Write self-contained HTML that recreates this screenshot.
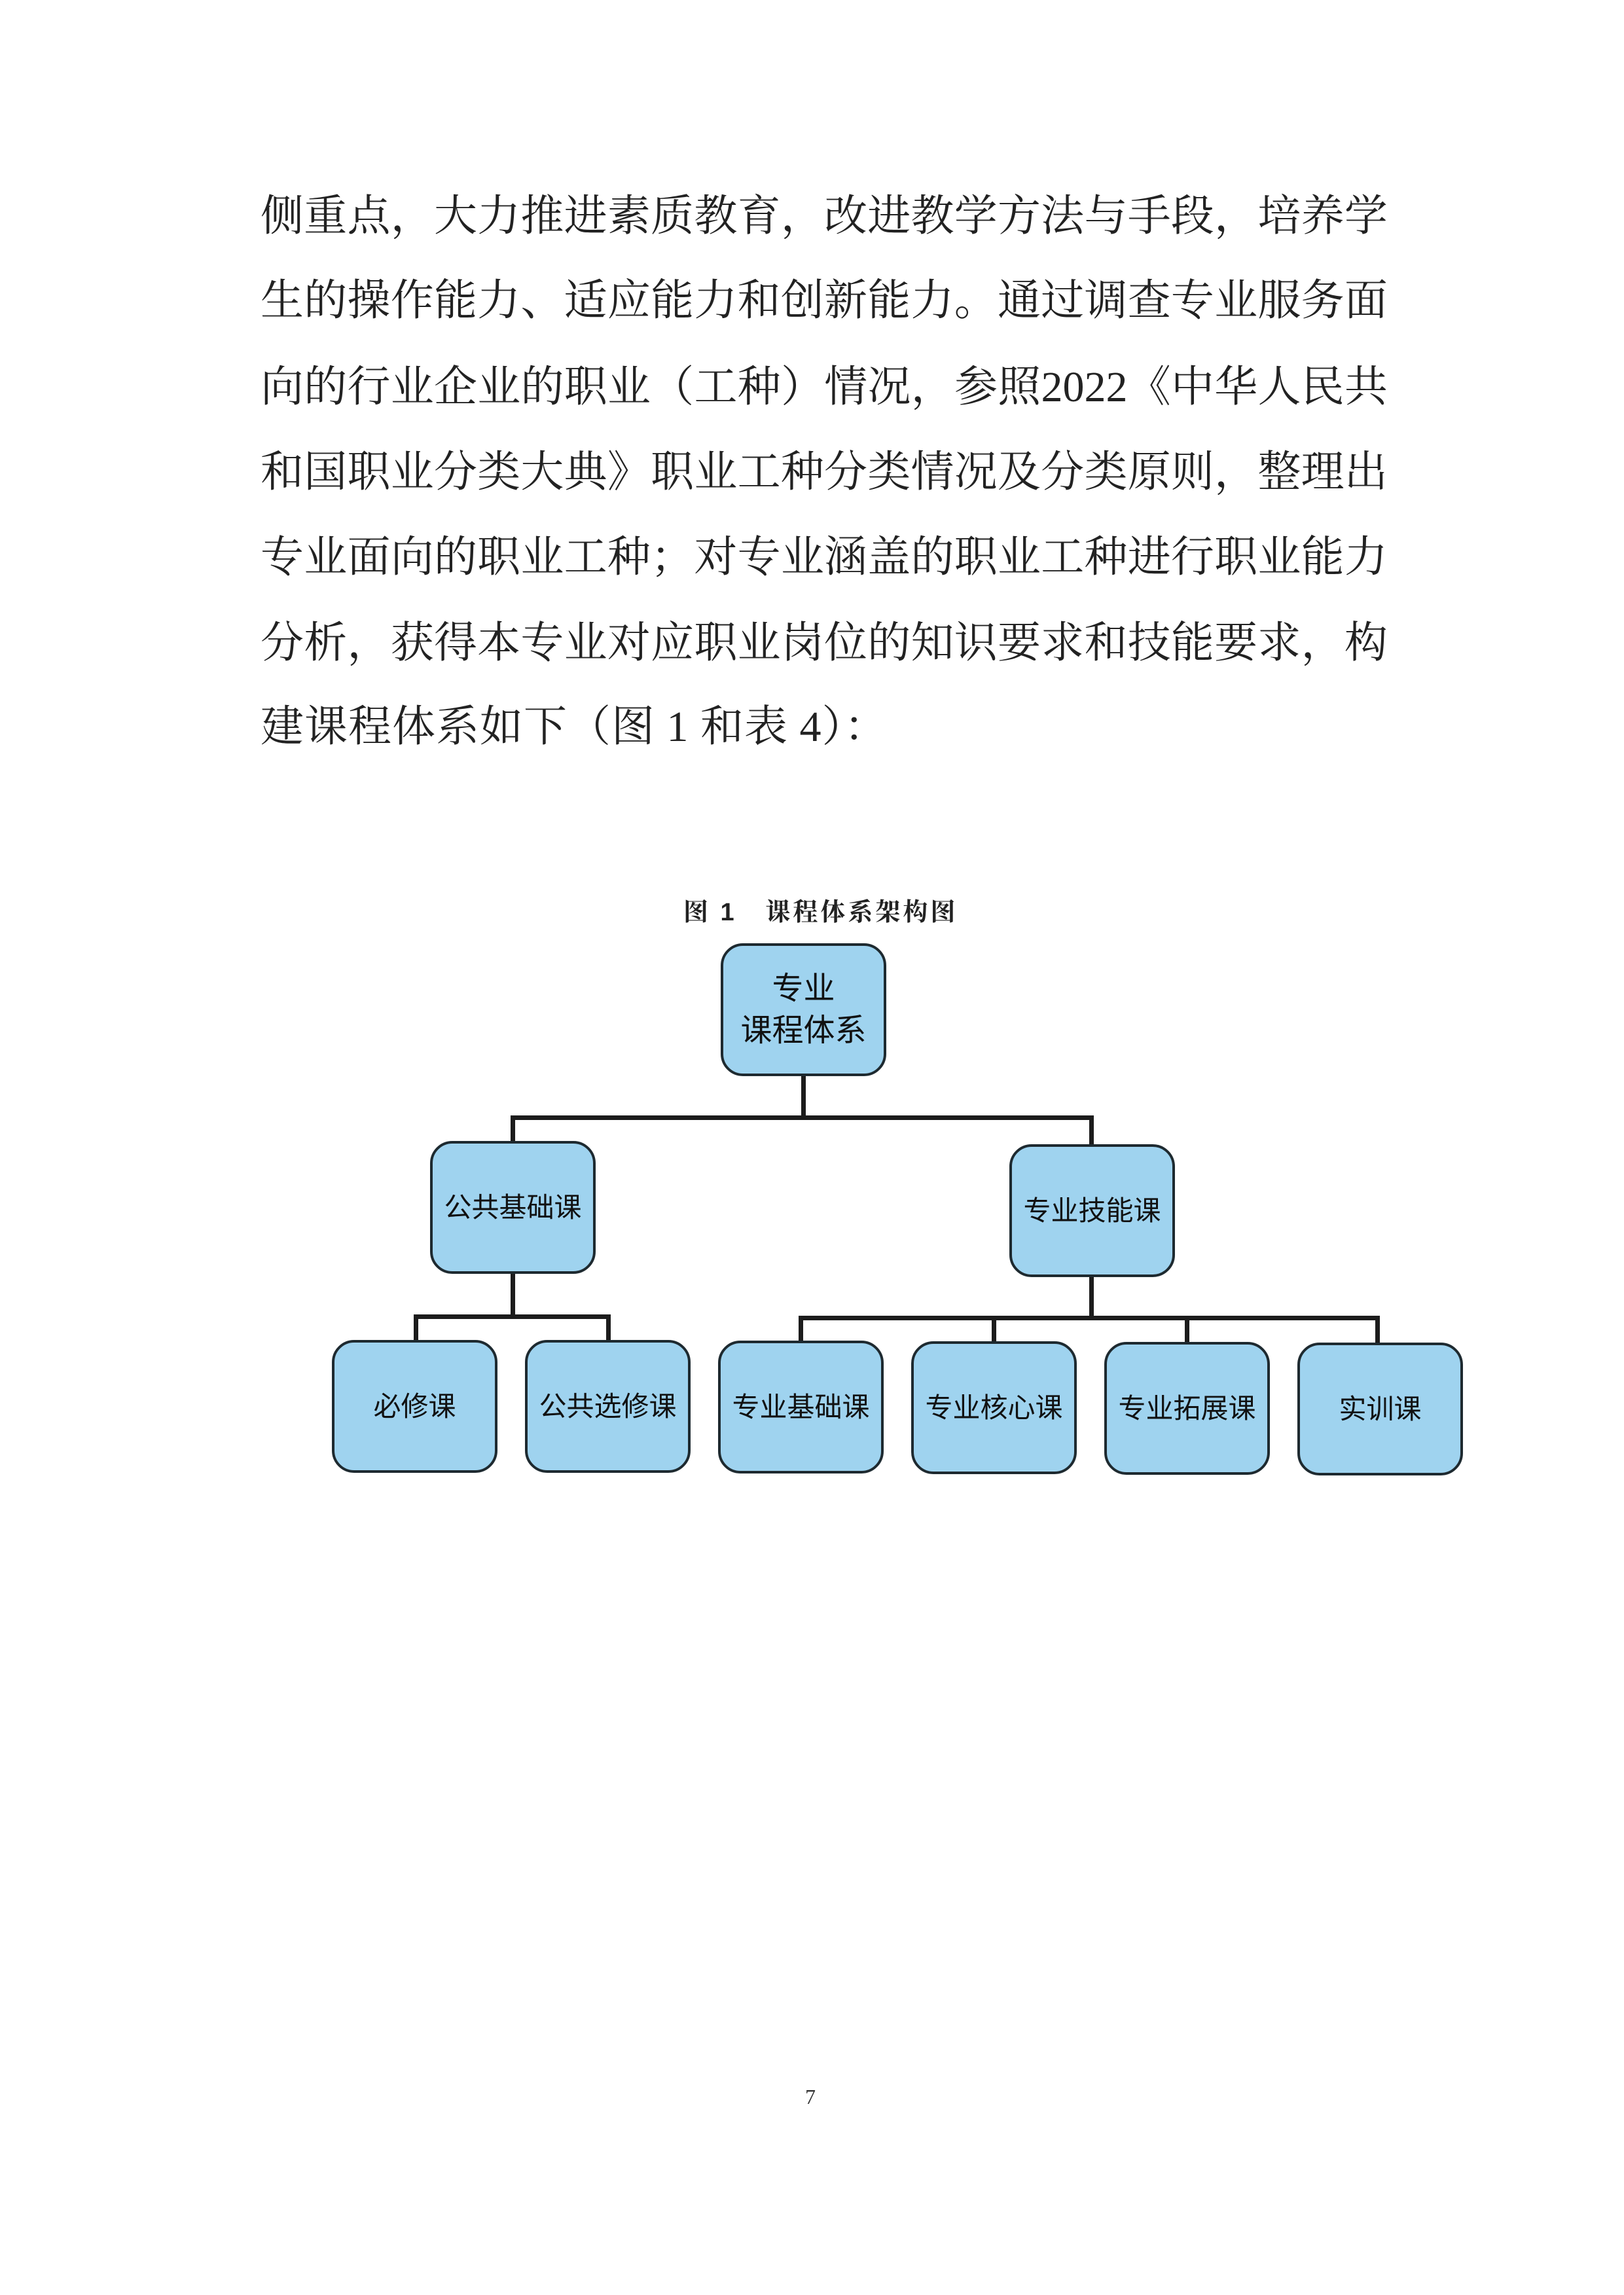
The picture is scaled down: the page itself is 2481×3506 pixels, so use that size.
<!DOCTYPE html>
<html><head><meta charset="utf-8"><style>
html,body{margin:0;padding:0;background:#fff;}
body{width:2481px;height:3506px;position:relative;overflow:hidden;}
.t{position:absolute;left:398px;width:1722px;font-family:"Liberation Serif","Noto Serif CJK SC",serif;font-size:66px;line-height:80px;color:#222;display:flex;justify-content:space-between;white-space:nowrap;}
.last{display:block;letter-spacing:1px;}
.cap{position:absolute;left:1044px;top:1362px;font-family:"Liberation Sans","Noto Serif CJK SC",serif;font-weight:bold;font-size:38px;color:#222;white-space:pre;letter-spacing:4px;}
.b{position:absolute;width:245px;height:195px;background:#9fd3ef;border:4px solid #1e2a30;border-radius:34px;display:flex;align-items:center;justify-content:center;text-align:center;font-family:"Liberation Sans","Noto Sans CJK SC",sans-serif;font-size:42px;color:#111;line-height:64px;}
.l{position:absolute;background:#1c1c1c;}
.pn{position:absolute;left:1230px;top:3185px;font-family:"Liberation Serif",serif;font-size:32px;color:#333;}
</style></head><body>
<div class="t" style="top:291px"><span>侧</span><span>重</span><span>点</span><span>，</span><span>大</span><span>力</span><span>推</span><span>进</span><span>素</span><span>质</span><span>教</span><span>育</span><span>，</span><span>改</span><span>进</span><span>教</span><span>学</span><span>方</span><span>法</span><span>与</span><span>手</span><span>段</span><span>，</span><span>培</span><span>养</span><span>学</span></div>
<div class="t" style="top:420px"><span>生</span><span>的</span><span>操</span><span>作</span><span>能</span><span>力</span><span>、</span><span>适</span><span>应</span><span>能</span><span>力</span><span>和</span><span>创</span><span>新</span><span>能</span><span>力</span><span>。</span><span>通</span><span>过</span><span>调</span><span>查</span><span>专</span><span>业</span><span>服</span><span>务</span><span>面</span></div>
<div class="t" style="top:552px"><span>向</span><span>的</span><span>行</span><span>业</span><span>企</span><span>业</span><span>的</span><span>职</span><span>业</span><span>（</span><span>工</span><span>种</span><span>）</span><span>情</span><span>况</span><span>，</span><span>参</span><span>照</span><span>2022</span><span>《</span><span>中</span><span>华</span><span>人</span><span>民</span><span>共</span></div>
<div class="t" style="top:682px"><span>和</span><span>国</span><span>职</span><span>业</span><span>分</span><span>类</span><span>大</span><span>典</span><span>》</span><span>职</span><span>业</span><span>工</span><span>种</span><span>分</span><span>类</span><span>情</span><span>况</span><span>及</span><span>分</span><span>类</span><span>原</span><span>则</span><span>，</span><span>整</span><span>理</span><span>出</span></div>
<div class="t" style="top:812px"><span>专</span><span>业</span><span>面</span><span>向</span><span>的</span><span>职</span><span>业</span><span>工</span><span>种</span><span>；</span><span>对</span><span>专</span><span>业</span><span>涵</span><span>盖</span><span>的</span><span>职</span><span>业</span><span>工</span><span>种</span><span>进</span><span>行</span><span>职</span><span>业</span><span>能</span><span>力</span></div>
<div class="t" style="top:943px"><span>分</span><span>析</span><span>，</span><span>获</span><span>得</span><span>本</span><span>专</span><span>业</span><span>对</span><span>应</span><span>职</span><span>业</span><span>岗</span><span>位</span><span>的</span><span>知</span><span>识</span><span>要</span><span>求</span><span>和</span><span>技</span><span>能</span><span>要</span><span>求</span><span>，</span><span>构</span></div>
<div class="t last" style="top:1071px">建课程体系如下（图 1 和表 4）：</div>
<div class="cap">图 1   课程体系架构图</div>

<div class="l" style="left:1224px;top:1644px;width:7px;height:66px"></div>
<div class="l" style="left:780px;top:1704px;width:890px;height:7px"></div>
<div class="l" style="left:780px;top:1704px;width:7px;height:42px"></div>
<div class="l" style="left:1664px;top:1704px;width:7px;height:46px"></div>
<div class="l" style="left:780px;top:1944px;width:7px;height:68px"></div>
<div class="l" style="left:632px;top:2008px;width:301px;height:7px"></div>
<div class="l" style="left:632px;top:2008px;width:7px;height:42px"></div>
<div class="l" style="left:926px;top:2008px;width:7px;height:42px"></div>
<div class="l" style="left:1664px;top:1949px;width:7px;height:64px"></div>
<div class="l" style="left:1220px;top:2010px;width:888px;height:7px"></div>
<div class="l" style="left:1220px;top:2010px;width:7px;height:40px"></div>
<div class="l" style="left:1515px;top:2010px;width:7px;height:40px"></div>
<div class="l" style="left:1810px;top:2010px;width:7px;height:40px"></div>
<div class="l" style="left:2101px;top:2010px;width:7px;height:42px"></div>

<div class="b" style="left:1101px;top:1441px;font-size:48px">专业<br>课程体系</div>
<div class="b" style="left:657px;top:1743px">公共基础课</div>
<div class="b" style="left:1542px;top:1748px">专业技能课</div>
<div class="b" style="left:507px;top:2047px">必修课</div>
<div class="b" style="left:802px;top:2047px">公共选修课</div>
<div class="b" style="left:1097px;top:2048px">专业基础课</div>
<div class="b" style="left:1392px;top:2049px">专业核心课</div>
<div class="b" style="left:1687px;top:2050px">专业拓展课</div>
<div class="b" style="left:1982px;top:2051px">实训课</div>

<div class="pn">7</div>
</body></html>
